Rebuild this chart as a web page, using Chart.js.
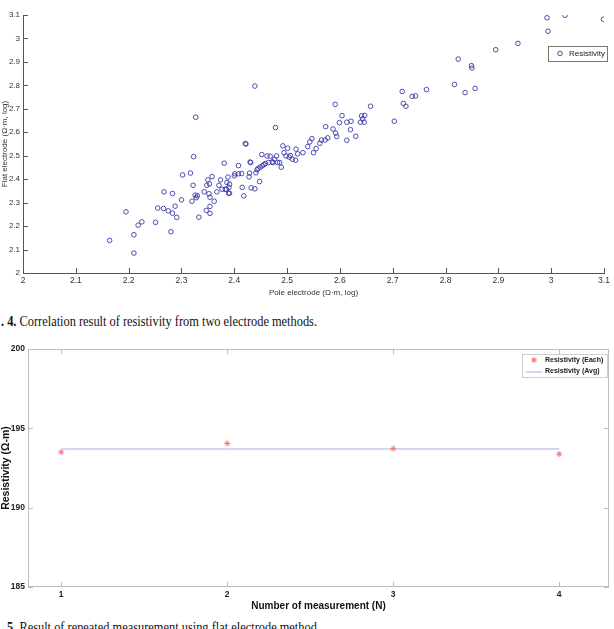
<!DOCTYPE html>
<html><head><meta charset="utf-8">
<script src="https://cdn.jsdelivr.net/npm/chart.js@4/dist/chart.umd.min.js"></script>
<style>
html,body{margin:0;padding:0;background:#fff;width:614px;height:629px;overflow:hidden;position:relative}
canvas{position:absolute;left:0}
#c1{top:0;width:614px;height:300px}
#c2{top:335px;width:614px;height:280px}
.cap{position:absolute;white-space:nowrap;font-family:"Liberation Serif","Times New Roman",serif;font-size:14px;line-height:14px;color:#111;transform-origin:0 0}
</style></head><body>
<canvas id="c1" width="614" height="300"></canvas>
<div class="cap" id="cap1" style="top:315px;left:1px"><b>. 4.</b> Correlation result of resistivity from two electrode methods.</div>
<canvas id="c2" width="614" height="280"></canvas>
<div class="cap" id="cap2" style="top:621px;left:7px"><b>5.</b> Result of repeated measurement using flat electrode method.</div>
<script>
// ---------- Fig. 4 data (log10 resistivity) ----------
const poleElectrode = [
 2.164,2.195,2.210,2.210,2.218,2.225,2.251,2.255,2.267,2.266,2.275,2.280,2.283,2.283,2.288,2.291,2.300,2.302,2.317,2.320,
 2.322,2.323,2.327,2.326,2.328,2.330,2.333,2.343,2.347,2.348,2.350,2.352,2.353,2.354,2.354,2.354,2.358,2.362,2.367,2.371,
 2.374,2.377,2.381,2.383,2.385,2.386,2.388,2.389,2.390,2.391,2.391,2.400,2.401,2.408,2.408,2.414,2.415,2.418,2.422,2.421,
 2.428,2.429,2.431,2.430,2.432,2.439,2.439,2.441,2.443,2.445,2.448,2.449,2.452,2.453,2.456,2.459,2.462,2.465,2.468,2.472,
 2.473,2.476,2.478,2.480,2.482,2.486,2.489,2.492,2.494,2.498,2.501,2.504,2.506,2.510,2.516,2.517,2.520,2.530,2.539,2.543,
 2.547,2.550,2.555,2.562,2.565,2.572,2.573,2.577,2.587,2.591,2.592,2.594,2.599,2.604,2.613,2.613,2.620,2.621,2.630,2.639,
 2.641,2.643,2.646,2.647,2.658,2.703,2.718,2.720,2.725,2.737,2.743,2.764,2.817,2.824,2.837,2.849,2.850,2.856,2.895,2.937,
 2.992,2.994,3.026,3.099
];
const flatElectrode = [
 2.139,2.261,2.163,2.085,2.204,2.218,2.216,2.277,2.346,2.275,2.265,2.176,2.339,2.255,2.285,2.237,2.312,2.418,2.426,2.306,
 2.374,2.496,2.664,2.332,2.321,2.329,2.238,2.346,2.267,2.374,2.397,2.338,2.380,2.284,2.254,2.323,2.411,2.306,2.346,2.374,
 2.397,2.357,2.468,2.357,2.357,2.386,2.409,2.340,2.365,2.379,2.340,2.414,2.423,2.458,2.423,2.424,2.365,2.329,2.550,2.552,
 2.410,2.426,2.471,2.473,2.363,2.797,2.359,2.427,2.440,2.445,2.390,2.451,2.505,2.457,2.462,2.467,2.499,2.471,2.498,2.474,
 2.471,2.485,2.620,2.499,2.471,2.471,2.451,2.542,2.513,2.499,2.532,2.494,2.501,2.485,2.481,2.528,2.508,2.513,2.539,2.559,
 2.573,2.513,2.530,2.553,2.567,2.567,2.624,2.576,2.614,2.719,2.596,2.582,2.641,2.671,2.566,2.643,2.611,2.647,2.583,2.643,
 2.670,2.657,2.643,2.672,2.711,2.647,2.774,2.723,2.711,2.753,2.755,2.782,2.804,2.912,2.769,2.884,2.874,2.787,2.952,2.979,
 3.088,3.031,3.099,3.082
];
const fig4Ticks = [2,2.1,2.2,2.3,2.4,2.5,2.6,2.7,2.8,2.9,3,3.1];

// ---------- Fig. 5 data ----------
const measurementN = [1,2,3,4];
const resistivityEach = [193.5,194.05,193.72,193.38];
const resistivityAvg = 193.7;
const fig5XTicks = [1,2,3,4];
const fig5YTicks = [185,190,195,200];

const SANS = '"Liberation Sans",Arial,sans-serif';

const inTicks = {
  id:'inTicks',
  afterDraw(chart,args,o){
    const ctx=chart.ctx, ca=chart.chartArea, xs=chart.scales.x, ys=chart.scales.y;
    ctx.save(); ctx.strokeStyle=o.color; ctx.lineWidth=1;
    if(o.box){ ctx.strokeRect(Math.round(ca.left)+0.5,Math.round(ca.top)+0.5,Math.round(ca.right-ca.left)-1,Math.round(ca.bottom-ca.top)-1); }
    ctx.beginPath();
    xs.ticks.forEach(t=>{
      const p=Math.round(xs.getPixelForValue(t.value))+0.5;
      ctx.moveTo(p,ca.bottom); ctx.lineTo(p,ca.bottom-o.len);
      if(o.box){ ctx.moveTo(p,ca.top); ctx.lineTo(p,ca.top+o.len); }
    });
    ys.ticks.forEach(t=>{
      const p=Math.round(ys.getPixelForValue(t.value))+0.5;
      ctx.moveTo(ca.left,p); ctx.lineTo(ca.left+o.len,p);
      if(o.box){ ctx.moveTo(ca.right,p); ctx.lineTo(ca.right-o.len,p); }
    });
    ctx.stroke(); ctx.restore();
  }
};
const boxLegend = {
  id:'boxLegend',
  afterDraw(chart,args,o){
    const ctx=chart.ctx, ca=chart.chartArea;
    const x0=Math.round(ca.right+o.dx-o.w), y0=Math.round(ca.top+o.dy);
    ctx.save();
    ctx.fillStyle='#fff'; ctx.fillRect(x0,y0,o.w,o.h);
    ctx.strokeStyle=o.border; ctx.lineWidth=1; ctx.strokeRect(x0+0.5,y0+0.5,o.w,o.h);
    ctx.font=o.font; ctx.textBaseline='middle';
    chart.data.datasets.forEach((ds,i)=>{
      const cy=y0+o.padTop+i*o.row, mx=x0+o.markerX;
      ctx.strokeStyle=ds.borderColor; ctx.lineWidth=ds.borderWidth||1; ctx.fillStyle='rgba(0,0,0,0)';
      if(ds.showLine){ ctx.beginPath(); ctx.moveTo(mx-8,cy+0.5); ctx.lineTo(mx+8,cy+0.5); ctx.stroke(); }
      else { Chart.helpers.drawPoint(ctx,{pointStyle:ds.pointStyle,radius:ds.pointRadius,borderWidth:ds.borderWidth,rotation:0},mx,cy); }
      ctx.fillStyle=o.color; ctx.fillText(ds.label,x0+o.textX,cy);
    });
    ctx.restore();
  }
};

// ---------- Fig. 4 chart ----------
new Chart(document.getElementById('c1'),{
  type:'scatter',
  data:{datasets:[{
    label:'Resistivity',
    data:poleElectrode.map((x,i)=>({x,y:flatElectrode[i]})),
    pointStyle:'circle',pointRadius:2.3,borderWidth:0.9,
    borderColor:'#3a3aa8',backgroundColor:'rgba(0,0,0,0)'
  }]},
  options:{
    responsive:false,devicePixelRatio:1,animation:false,
    layout:{padding:{left:0,right:10,top:15,bottom:0}},
    plugins:{legend:{display:false},tooltip:{enabled:false},
      inTicks:{color:'#555',len:5,box:false},
      boxLegend:{dx:3,dy:31,w:59,h:15,padTop:7.5,row:0,markerX:12,textX:21,font:'8px '+SANS,color:'#222',border:'#777'}},
    scales:{
      x:{type:'linear',min:2,max:3.1,
        afterBuildTicks:s=>{s.ticks=fig4Ticks.map(v=>({value:v}));},
        afterFit:s=>{s.height=27;},
        grid:{display:false,drawTicks:false},
        border:{display:true,color:'#555',width:1},
        ticks:{autoSkip:false,maxRotation:0,padding:3,color:'#333',font:{family:SANS,size:8.5},callback:v=>String(+v.toFixed(1))},
        title:{display:true,text:'Pole electrode (Ω·m, log)',color:'#333',font:{family:SANS,size:8},padding:{top:0,bottom:2}}},
      y:{type:'linear',min:2,max:3.1,
        afterBuildTicks:s=>{s.ticks=fig4Ticks.map(v=>({value:v}));},
        afterFit:s=>{s.width=23;},
        grid:{display:false,drawTicks:false},
        border:{display:true,color:'#555',width:1},
        ticks:{autoSkip:false,padding:3,color:'#333',font:{family:SANS,size:8},callback:v=>String(+v.toFixed(1))},
        title:{display:true,text:'Flat electrode (Ω·m, log)',color:'#333',font:{family:SANS,size:8},padding:{top:0,bottom:0}}}
    }
  },
  plugins:[inTicks,boxLegend]
});

// ---------- Fig. 5 chart ----------
new Chart(document.getElementById('c2'),{
  type:'scatter',
  data:{datasets:[
    {label:'Resistivity (Each)',data:measurementN.map((x,i)=>({x,y:resistivityEach[i]})),
     pointStyle:'star',pointRadius:3,borderWidth:1,borderColor:'#ff7070',backgroundColor:'#ff7070'},
    {label:'Resistivity (Avg)',data:measurementN.map(x=>({x,y:resistivityAvg})),
     showLine:true,pointRadius:0,borderWidth:1,borderColor:'#a6aef0',backgroundColor:'#a6aef0'}
  ]},
  options:{
    responsive:false,devicePixelRatio:1,animation:false,
    layout:{padding:{left:0,right:4,top:14,bottom:0}},
    plugins:{legend:{display:false},tooltip:{enabled:false},
      inTicks:{color:'#bdbdbd',len:5,box:true},
      boxLegend:{dx:-2,dy:5,w:85,h:23,padTop:6,row:11.5,markerX:12,textX:23,font:'bold 7px '+SANS,color:'#222',border:'#cfcfcf'}},
    scales:{
      x:{type:'linear',min:0.8,max:4.3,
        afterBuildTicks:s=>{s.ticks=fig5XTicks.map(v=>({value:v}));},
        afterFit:s=>{s.height=28;},
        grid:{display:false,drawTicks:false},
        border:{display:false},
        ticks:{autoSkip:false,maxRotation:0,padding:3,color:'#222',font:{family:SANS,size:8.5,weight:'bold'}},
        title:{display:true,text:'Number of measurement (N)',color:'#111',font:{family:SANS,size:10,weight:'bold'},padding:{top:0,bottom:3}}},
      y:{type:'linear',min:185,max:200,
        afterBuildTicks:s=>{s.ticks=fig5YTicks.map(v=>({value:v}));},
        afterFit:s=>{s.width=28;},
        grid:{display:false,drawTicks:false},
        border:{display:false},
        ticks:{autoSkip:false,padding:3,color:'#222',font:{family:SANS,size:8.5,weight:'bold'}},
        title:{display:true,text:'Resistivity (Ω-m)',color:'#111',font:{family:SANS,size:10.5,weight:'bold'},padding:{top:0,bottom:0}}}
    }
  },
  plugins:[inTicks,boxLegend]
});

function fitCap(id,w){const el=document.getElementById(id);const r=el.getBoundingClientRect().width;el.style.transform='scaleX('+(w/r)+')';}
fitCap('cap1',316);
fitCap('cap2',313);
</script>
</body></html>
